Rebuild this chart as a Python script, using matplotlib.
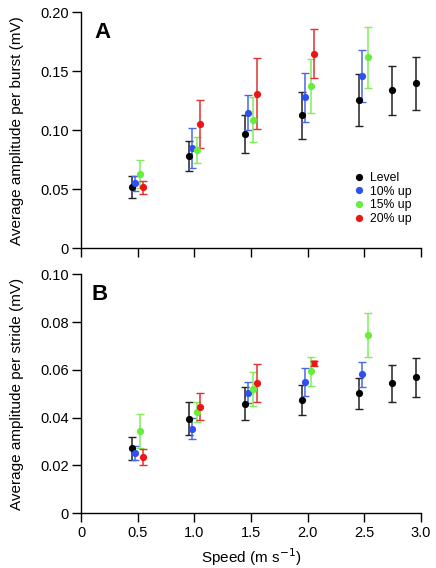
import matplotlib
matplotlib.use("Agg")
import matplotlib.pyplot as plt
from matplotlib.lines import Line2D

plt.rcParams['font.family'] = ['Liberation Sans', 'DejaVu Sans']

# ---- Data ----
series_names = ["Level", "10% up", "15% up", "20% up"]
series_colors = ["#000000", "#2f4ff2", "#66ee3c", "#ee1414"]
errbar_colors = ["#222222", "#4a68e8", "#80ee5a", "#e23030"]

speed_level = [0.45, 0.95, 1.45, 1.95, 2.45, 2.74, 2.96]
speed_10 = [0.475, 0.975, 1.477, 1.98, 2.48]
speed_15 = [0.52, 1.02, 1.52, 2.03, 2.53]
speed_20 = [0.55, 1.05, 1.55, 2.055]

# Panel A: amplitude per burst (mV)
burst_level = [0.052, 0.078, 0.097, 0.113, 0.126, 0.134, 0.140]
burst_level_err = [0.0095, 0.0128, 0.016, 0.020, 0.022, 0.021, 0.0224]
burst_10 = [0.055, 0.085, 0.115, 0.128, 0.146]
burst_10_err = [0.0067, 0.0168, 0.015, 0.021, 0.0218]
burst_15 = [0.063, 0.083, 0.109, 0.1375, 0.162]
burst_15_err = [0.012, 0.011, 0.019, 0.023, 0.026]
burst_20 = [0.0518, 0.1056, 0.131, 0.165]
burst_20_err = [0.0056, 0.0206, 0.030, 0.0206]

# Panel B: amplitude per stride (mV)
stride_level = [0.0273, 0.0396, 0.0459, 0.0474, 0.0502, 0.0544, 0.0569]
stride_level_err = [0.0048, 0.007, 0.0069, 0.0063, 0.0065, 0.0077, 0.0081]
stride_10 = [0.0251, 0.0354, 0.0505, 0.0549, 0.0581]
stride_10_err = [0.003, 0.0045, 0.0044, 0.006, 0.0052]
stride_15 = [0.0344, 0.0425, 0.0519, 0.0594, 0.0747]
stride_15_err = [0.0071, 0.0041, 0.0072, 0.006, 0.0091]
stride_20 = [0.0237, 0.0446, 0.0545, 0.0628]
stride_20_err = [0.0033, 0.0056, 0.0079, 0.0010]

x_ticks = [0, 0.5, 1.0, 1.5, 2.0, 2.5, 3.0]
x_ticklabels = ["0", "0.5", "1.0", "1.5", "2.0", "2.5", "3.0"]
a_yticks = [0, 0.05, 0.10, 0.15, 0.20]
a_yticklabels = ["0", "0.05", "0.10", "0.15", "0.20"]
b_yticks = [0, 0.02, 0.04, 0.06, 0.08, 0.10]
b_yticklabels = ["0", "0.02", "0.04", "0.06", "0.08", "0.10"]

fig = plt.figure(figsize=(4.36, 5.68), dpi=100)
axA = fig.add_axes([0.186, 0.5628, 0.7796, 0.4152])
axB = fig.add_axes([0.186, 0.0963, 0.7796, 0.4208])

speeds = [speed_level, speed_10, speed_15, speed_20]
A_vals = [(burst_level, burst_level_err), (burst_10, burst_10_err),
          (burst_15, burst_15_err), (burst_20, burst_20_err)]
B_vals = [(stride_level, stride_level_err), (stride_10, stride_10_err),
          (stride_15, stride_15_err), (stride_20, stride_20_err)]

def draw(ax, vals, square_last_red=False):
    for i, (xs, (ys, es)) in enumerate(zip(speeds, vals)):
        ax.errorbar(xs, ys, yerr=es, fmt='none', ecolor=errbar_colors[i],
                    elinewidth=1.1, capsize=2.6, capthick=1.0, zorder=2)
        if square_last_red and i == 3:
            ax.plot(xs[:-1], ys[:-1], 'o', color=series_colors[i], ms=5.2,
                    mec='none', zorder=3)
            ax.plot(xs[-1:], ys[-1:], 's', color=series_colors[i], ms=5.0,
                    mec='none', zorder=3)
        else:
            ax.plot(xs, ys, 'o', color=series_colors[i], ms=5.2, mec='none',
                    zorder=3)

draw(axA, A_vals)
draw(axB, B_vals, square_last_red=True)

for ax in (axA, axB):
    ax.spines['top'].set_visible(False)
    ax.spines['right'].set_visible(False)
    ax.spines['left'].set_linewidth(1.0)
    ax.spines['bottom'].set_linewidth(1.0)
    ax.set_xlim(0, 3.0)
    ax.set_xticks(x_ticks)
    ax.tick_params(direction='out', length=6.5, width=1.0, labelsize=10.5,
                   pad=2.5)

axA.set_ylim(0, 0.20)
axA.set_yticks(a_yticks)
axA.set_yticklabels(a_yticklabels)
axA.set_xticklabels([])
axB.set_ylim(0, 0.10)
axB.set_yticks(b_yticks)
axB.set_yticklabels(b_yticklabels)
axB.set_xticklabels(x_ticklabels)

axA.set_ylabel("Average amplitude per burst (mV)", fontsize=11)
axB.set_ylabel("Average amplitude per stride (mV)", fontsize=11)
axA.yaxis.set_label_coords(-0.168, 0.5)
axB.yaxis.set_label_coords(-0.168, 0.5)
axB.set_xlabel("Speed (m s$^{-1}$)", fontsize=11, labelpad=4.5)

axA.text(0.04, 0.96, "A", transform=axA.transAxes, fontsize=16,
         fontweight='bold', va='top', ha='left')
axB.text(0.03, 0.96, "B", transform=axB.transAxes, fontsize=16,
         fontweight='bold', va='top', ha='left')

handles = [Line2D([], [], marker='o', ls='none', color=c, ms=5.2, mec='none')
           for c in series_colors]
axA.legend(handles, series_names, loc='lower right',
           bbox_to_anchor=(0.986, 0.077), frameon=False, fontsize=8.8,
           handletextpad=0.35, labelspacing=0.15, handlelength=1.0,
           borderaxespad=0)

fig.savefig("out.png", dpi=100)
